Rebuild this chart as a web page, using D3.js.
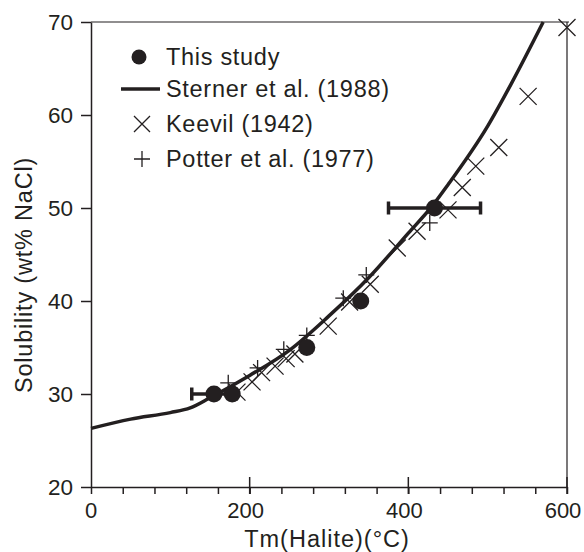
<!DOCTYPE html>
<html>
<head>
<meta charset="utf-8">
<script src="https://cdn.jsdelivr.net/npm/d3@7"></script>
<style>
  body { margin: 0; background: #fff; }
  svg text { font-family: "Liberation Sans", Arial, sans-serif; fill: #231f20; }
</style>
</head>
<body>
<svg id="chart" width="584" height="552"></svg>
<script>
// This study: [Tm, solubility, error half-width]
const thisStudy = [
  [155, 30, 28],
  [178, 30, 0],
  [272, 35, 0],
  [340, 40, 0],
  [433, 50, 58]
];

// Sterner et al. (1988) curve
const sternerT = [0, 50, 100, 125, 150, 200, 250, 300, 350, 400, 430, 450, 500, 530, 570];
const sternerS = [26.3, 27.3, 28.0, 28.5, 29.6, 32.0, 34.7, 38.4, 42.5, 47.3, 50.2, 52.5, 58.8, 63.4, 70];

// Keevil (1942)
const keevil = [
  [184, 30.2], [203, 31.3], [215, 32.3], [232, 33.0], [246, 33.8], [257, 34.3],
  [299, 37.3], [326, 39.9], [352, 41.8], [386, 45.7], [411, 47.5], [450, 49.8],
  [468, 52.2], [485, 54.5], [514, 56.5], [551, 62.0], [600, 69.4]
];

// Potter et al. (1977)
const potter = [
  [173, 31.2], [210, 32.8], [243, 34.8], [272, 36.3], [318, 40.3], [347, 42.8], [427, 48.4]
];

const xTicks = [0, 200, 400, 600];
const yTicks = [20, 30, 40, 50, 60, 70];
const legendLabels = ["This study", "Sterner et al. (1988)", "Keevil (1942)", "Potter et al. (1977)"];

const ink = "#231f20";
const svg = d3.select("#chart");

const x = d3.scaleLinear().domain([0, 600]).range([91, 567]);
const y = d3.scaleLinear().domain([20, 70]).range([487, 22]);

// frame: top and right lines
svg.append("line").attr("x1", x(0)).attr("x2", x(600) + 2).attr("y1", y(70)).attr("y2", y(70))
  .attr("stroke", ink).attr("stroke-width", 1.2);
svg.append("line").attr("x1", x(600)).attr("x2", x(600)).attr("y1", y(70)).attr("y2", y(20))
  .attr("stroke", ink).attr("stroke-width", 1.2);

// y axis
const yAxis = svg.append("g").attr("transform", `translate(${x(0)},0)`)
  .call(d3.axisLeft(y).tickValues(yTicks).tickSize(10).tickPadding(8).tickSizeOuter(0));
yAxis.select(".domain").attr("stroke", ink).attr("stroke-width", 1.5);
yAxis.selectAll(".tick line").attr("stroke", ink).attr("stroke-width", 1.5);
yAxis.selectAll(".tick text").attr("font-size", 22.5).attr("fill", ink)
  .attr("font-family", "Liberation Sans, Arial, sans-serif");

// x axis: minor ticks every 40 outward, major ticks crossing
const xAxis = svg.append("g").attr("transform", `translate(0,${y(20)})`)
  .call(d3.axisBottom(x).tickValues(d3.range(0, 601, 40)).tickSize(7).tickFormat("").tickSizeOuter(0));
xAxis.select(".domain").attr("stroke", ink).attr("stroke-width", 1.5);
xAxis.selectAll(".tick line").attr("stroke", ink).attr("stroke-width", 1.5);

svg.append("g").selectAll("line")
  .data(xTicks.slice(1))
  .enter()
  .append("line")
  .attr("x1", d => x(d)).attr("x2", d => x(d))
  .attr("y1", y(20) - 10).attr("y2", y(20) + 7)
  .attr("stroke", ink).attr("stroke-width", 1.5);

svg.append("g").selectAll("text")
  .data(xTicks)
  .enter()
  .append("text")
  .attr("x", d => x(d) - (d > 0 ? 4 : 0))
  .attr("y", 518)
  .attr("text-anchor", "middle")
  .attr("font-size", 22)
  .text(d => d);

// axis titles
svg.append("text")
  .attr("x", 327).attr("y", 547)
  .attr("text-anchor", "middle")
  .attr("font-size", 23.5)
  .attr("letter-spacing", 1)
  .text("Tm(Halite)(°C)");

svg.append("text")
  .attr("transform", "translate(32,275) rotate(-90)")
  .attr("text-anchor", "middle")
  .attr("font-size", 23.5)
  .attr("letter-spacing", 0.8)
  .text("Solubility (wt% NaCl)");

// Sterner curve
const curveData = sternerT.map((t, i) => [t, sternerS[i]]);
svg.append("path")
  .datum(curveData)
  .attr("d", d3.line().x(d => x(d[0])).y(d => y(d[1])).curve(d3.curveMonotoneX))
  .attr("fill", "none")
  .attr("stroke", ink)
  .attr("stroke-width", 3.5);

// crosses (Keevil)
const xs = 8.5;
svg.append("g").selectAll("path")
  .data(keevil)
  .enter()
  .append("path")
  .attr("d", d => {
    const cx = x(d[0]), cy = y(d[1]);
    return `M${cx - xs},${cy - xs}L${cx + xs},${cy + xs}M${cx - xs},${cy + xs}L${cx + xs},${cy - xs}`;
  })
  .attr("stroke", ink).attr("stroke-width", 1.3).attr("fill", "none");

// plus (Potter)
const ps = 8;
svg.append("g").selectAll("path")
  .data(potter)
  .enter()
  .append("path")
  .attr("d", d => {
    const cx = x(d[0]), cy = y(d[1]);
    return `M${cx - ps},${cy}L${cx + ps},${cy}M${cx},${cy - ps}L${cx},${cy + ps}`;
  })
  .attr("stroke", ink).attr("stroke-width", 1.3).attr("fill", "none");

// error bars for this study
const errs = thisStudy.filter(d => d[2] > 0);
const errG = svg.append("g");
errG.selectAll(".bar")
  .data(errs)
  .enter()
  .append("line")
  .attr("x1", d => x(d[0] - d[2])).attr("x2", d => x(d[0] + d[2]))
  .attr("y1", d => y(d[1])).attr("y2", d => y(d[1]))
  .attr("stroke", ink).attr("stroke-width", 3.5);
errG.selectAll(".cap")
  .data(errs.flatMap(d => [[d[0] - d[2], d[1]], [d[0] + d[2], d[1]]]))
  .enter()
  .append("line")
  .attr("x1", d => x(d[0])).attr("x2", d => x(d[0]))
  .attr("y1", d => y(d[1]) - 6.5).attr("y2", d => y(d[1]) + 6.5)
  .attr("stroke", ink).attr("stroke-width", 3.5);

// circles for this study
svg.append("g").selectAll("circle")
  .data(thisStudy)
  .enter()
  .append("circle")
  .attr("cx", d => x(d[0]))
  .attr("cy", d => y(d[1]))
  .attr("r", 8.5)
  .attr("fill", ink);

// legend
const legend = svg.append("g");
const rowY = [57, 89, 124, 159];
legend.append("circle").attr("cx", 139).attr("cy", rowY[0]).attr("r", 7.5).attr("fill", ink);
legend.append("line").attr("x1", 121).attr("x2", 160).attr("y1", rowY[1]).attr("y2", rowY[1])
  .attr("stroke", ink).attr("stroke-width", 3.5);
legend.append("path")
  .attr("d", `M${134},${rowY[2] - 8}L${150},${rowY[2] + 8}M${134},${rowY[2] + 8}L${150},${rowY[2] - 8}`)
  .attr("stroke", ink).attr("stroke-width", 1.3);
legend.append("path")
  .attr("d", `M${134},${rowY[3]}L${150},${rowY[3]}M${142},${rowY[3] - 8}L${142},${rowY[3] + 8}`)
  .attr("stroke", ink).attr("stroke-width", 1.3);
legend.selectAll("text")
  .data(legendLabels)
  .enter()
  .append("text")
  .attr("x", 166)
  .attr("y", (d, i) => rowY[i] + 8)
  .attr("font-size", 23.5)
  .attr("letter-spacing", 0.7)
  .text(d => d);
</script>
</body>
</html>
